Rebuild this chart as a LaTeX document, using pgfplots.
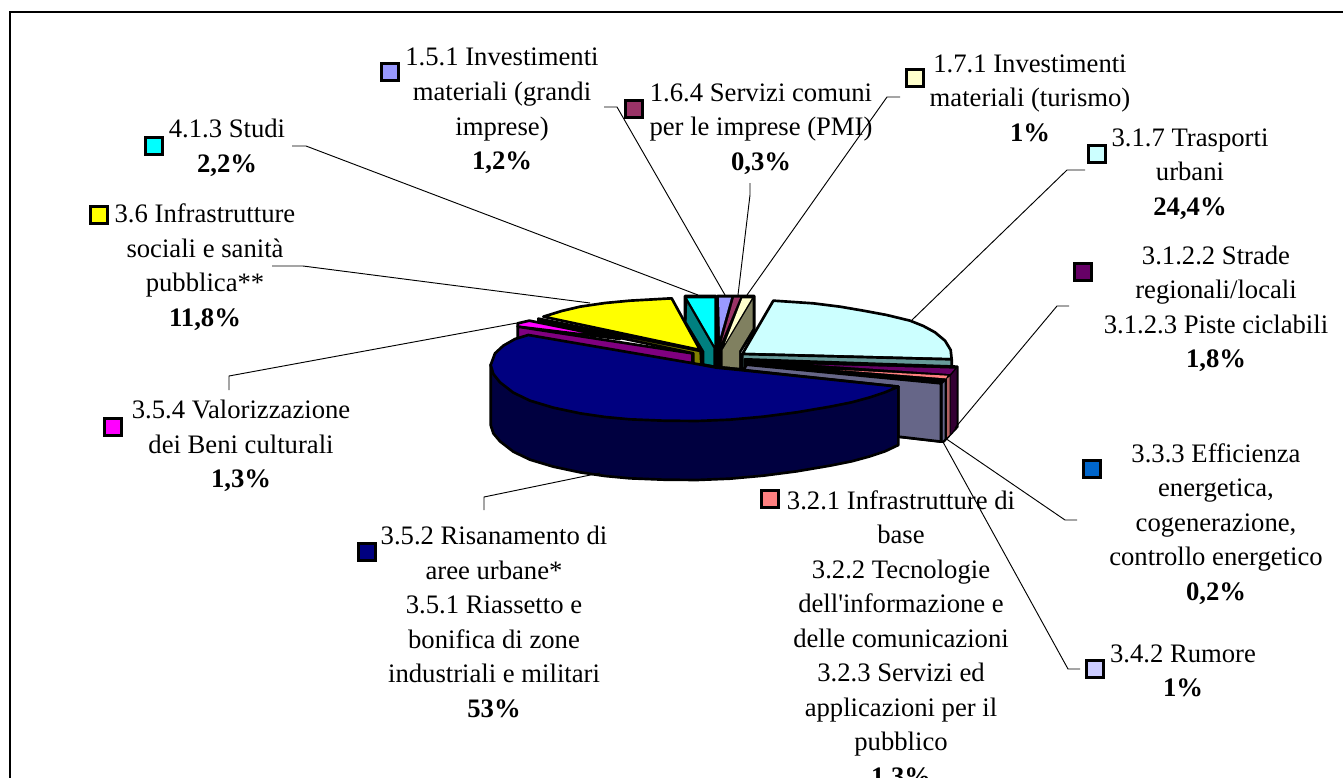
\documentclass[border=0pt]{standalone}
\usepackage{fontspec}
\setmainfont{Liberation Serif}
\usepackage{pgfplots}
\pgfplotsset{compat=1.18}
\definecolor{c151}{HTML}{9999FF}
\definecolor{c164}{HTML}{993366}
\definecolor{c171}{HTML}{FFFFCC}
\definecolor{c317}{HTML}{CCFFFF}
\definecolor{c312}{HTML}{660066}
\definecolor{c333}{HTML}{0066CC}
\definecolor{c321}{HTML}{FF8080}
\definecolor{c342}{HTML}{CCCCFF}
\definecolor{c352}{HTML}{000080}
\definecolor{c354}{HTML}{FF00FF}
\definecolor{c36}{HTML}{FFFF00}
\definecolor{c413}{HTML}{00FFFF}
\definecolor{s317}{HTML}{669999}
\definecolor{s342}{HTML}{666688}
\definecolor{s352}{HTML}{000040}
\definecolor{s171}{HTML}{808060}
\definecolor{s312}{HTML}{330033}
\definecolor{s321}{HTML}{B06060}
\definecolor{s354}{HTML}{800080}
\definecolor{s36}{HTML}{808000}
\definecolor{s413}{HTML}{008080}
\pgfplotsset{base/.style={scale only axis,width=1007.25pt,height=583.5pt,hide axis,y dir=reverse,clip=false,axis line style={draw=none}},
 pie/.style={draw=black,line width=2pt,line join=round,mark=none,fill=#1},
 flat/.style={draw=none,mark=none,fill=#1},
 lead/.style={draw=black,line width=0.7pt,mark=none},
 key/.style={only marks,mark=square*,mark size=6.3pt,mark options={draw=black,line width=1.7pt,fill=#1}}}
\newcommand{\lab}[4]{\node[align=center,anchor=center,inner sep=0pt,font=\fontsize{20}{25.9}\selectfont] at (axis cs:#1,#2) {#3\\\textbf{#4}};}
\begin{document}
\begin{tikzpicture}
\clip (0,0) rectangle (1007.25pt,583.5pt);
% pie, coordinates in a 3x grid
\begin{axis}[base,xmin=-1440,xmax=2589,ymin=-810,ymax=1524]
\addplot[pie=c317] coordinates {(880,92)(1000,100)(1080,110)(1150,122)(1220,135)(1290,152)(1330,168)(1365,187)(1395,212)(1412,240)(1415,268)(787,252)} --cycle;
\addplot[pie=s317] coordinates {(787,252)(1415,268)(1415,290)(787,300)} --cycle;
\addplot[pie=black] coordinates {(795,268)(1432,290)(1432,470)(1390,515)(1255,500)(795,300)} --cycle;
\addplot[flat=c312] coordinates {(1000,284)(1424,296)(1410,312)} --cycle;
\addplot[flat=s312] coordinates {(1412,318)(1430,296)(1430,468)(1412,492)} --cycle;
\addplot[flat=c321] coordinates {(1080,300)(1402,317)(1398,325)} --cycle;
\addplot[flat=s321] coordinates {(1401,326)(1409,320)(1409,494)(1401,502)} --cycle;
\addplot[flat=s342] coordinates {(1388,342)(1394,336)(1394,506)(1388,512)} --cycle;
\addplot[pie=s342] coordinates {(800,284)(1383,340)(1383,515)(1255,500)(1255,350)(790,300)} --cycle;
% left group
\addplot[pie=c354] coordinates {(113,160)(148,152)(420,207)(113,170)} --cycle;
\addplot[pie=s354] coordinates {(113,170)(637,250)(637,280)(113,205)} --cycle;
\addplot[pie=s36] coordinates {(175,146)(662,243)(664,287)(640,283)(640,250)(175,152)} --cycle;
\addplot[pie=c36] coordinates {(190,140)(245,123)(300,110)(375,99)(450,92)(575,85)(660,240)} --cycle;
\addplot[pie=black] coordinates {(615,78)(708,78)(708,288)(670,283)(670,245)(615,155)} --cycle;
\addplot[flat=c413] coordinates {(622,85)(703,85)(703,225)} --cycle;
\addplot[flat=s413] coordinates {(622,100)(700,235)(700,285)(673,280)(673,243)(620,155)} --cycle;
\addplot[pie=black] coordinates {(712,78)(823,78)(823,180)(780,245)(780,298)(712,290)} --cycle;
\addplot[flat=c151] coordinates {(717,83)(753,83)(720,200)} --cycle;
\addplot[flat=c164] coordinates {(762,83)(780,83)(725,215)} --cycle;
\addplot[flat=c171] coordinates {(787,85)(815,85)(735,220)} --cycle;
\addplot[flat=s171] coordinates {(818,90)(818,175)(777,243)(777,293)(728,288)(728,240)} --cycle;
% navy slice
\addplot[pie=s352] coordinates {(32,285)(32,465)(40,490)(60,514)(100,545)(150,569)(220,590)(300,607)(375,618)(450,625)(550,629)(650,630)(750,626)(850,617)(950,604)(1050,587)(1115,574)(1170,559)(1215,544)(1255,525)(1255,350)} --cycle;
\addplot[pie=c352] coordinates {(145,195)(105,207)(70,227)(45,250)(32,285)(40,312)(60,337)(100,368)(150,392)(220,413)(300,430)(375,441)(450,448)(550,452)(650,453)(750,449)(850,440)(950,427)(1050,410)(1115,397)(1170,382)(1215,367)(1255,350)(780,300)(710,293)(640,280)} --cycle;
\end{axis}
% frame, leaders, keys, labels in picture pixels
\begin{axis}[base,xmin=0,xmax=1343,ymin=0,ymax=778]
\addplot[draw=black,line width=0.8pt,mark=none] coordinates {(10,778)(10,12)(1343,12)};
\addplot[lead] coordinates {(292,146)(306,146)(698,295)};
\addplot[lead] coordinates {(604,107)(617,107)(725,295)};
\addplot[lead] coordinates {(750,183)(750,195)(738,295)};
\addplot[lead] coordinates {(900,97)(887,97)(747,295)};
\addplot[lead] coordinates {(1085,170)(1067,170)(912,320)};
\addplot[lead] coordinates {(1069,306)(1057,306)(955,428)};
\addplot[lead] coordinates {(1077,520)(1065,520)(945,438)};
\addplot[lead] coordinates {(1080,669)(1068,669)(943,442)};
\addplot[lead] coordinates {(484,510)(484,497)(600,473)};
\addplot[lead] coordinates {(229,390)(229,376)(517,323)};
\addplot[lead] coordinates {(272,266)(303,266)(590,303)};
\addplot[key=c151] coordinates {(390,72)};
\addplot[key=c164] coordinates {(634,109)};
\addplot[key=c171] coordinates {(915,78)};
\addplot[key=c317] coordinates {(1097,154)};
\addplot[key=c312] coordinates {(1083,272)};
\addplot[key=c333] coordinates {(1092,469)};
\addplot[key=c321] coordinates {(770,499)};
\addplot[key=c342] coordinates {(1095,669)};
\addplot[key=c352] coordinates {(367,552)};
\addplot[key=c354] coordinates {(113,427)};
\addplot[key=c36] coordinates {(99,215)};
\addplot[key=c413] coordinates {(154,146)};
\lab{502}{111}{1.5.1 Investimenti\\materiali (grandi\\imprese)}{1,2\%}
\lab{761}{129}{1.6.4 Servizi comuni\\per le imprese (PMI)}{0,3\%}
\lab{1030}{98}{1.7.1 Investimenti\\materiali (turismo)}{1\%}
\lab{1190}{174}{3.1.7 Trasporti\\urbani}{24,4\%}
\lab{1216}{309}{3.1.2.2 Strade\\regionali/locali\\3.1.2.3 Piste ciclabili}{1,8\%}
\lab{1216}{524}{3.3.3 Efficienza\\energetica,\\cogenerazione,\\controllo energetico}{0,2\%}
\lab{1183}{671}{3.4.2 Rumore}{1\%}
\lab{901}{640}{3.2.1 Infrastrutture di\\base\\3.2.2 Tecnologie\\dell\textquotesingle informazione e\\delle comunicazioni\\3.2.3 Servizi ed\\applicazioni per il\\pubblico}{1,3\%}
\lab{494}{622}{3.5.2 Risanamento di\\aree urbane*\\3.5.1 Riassetto e\\bonifica di zone\\industriali e militari}{53\%}
\lab{241}{446}{3.5.4 Valorizzazione\\dei Beni culturali}{1,3\%}
\lab{205}{267}{3.6 Infrastrutture\\sociali e sanità\\pubblica**}{11,8\%}
\lab{227}{148}{4.1.3 Studi}{2,2\%}
\end{axis}
\end{tikzpicture}
\end{document}
